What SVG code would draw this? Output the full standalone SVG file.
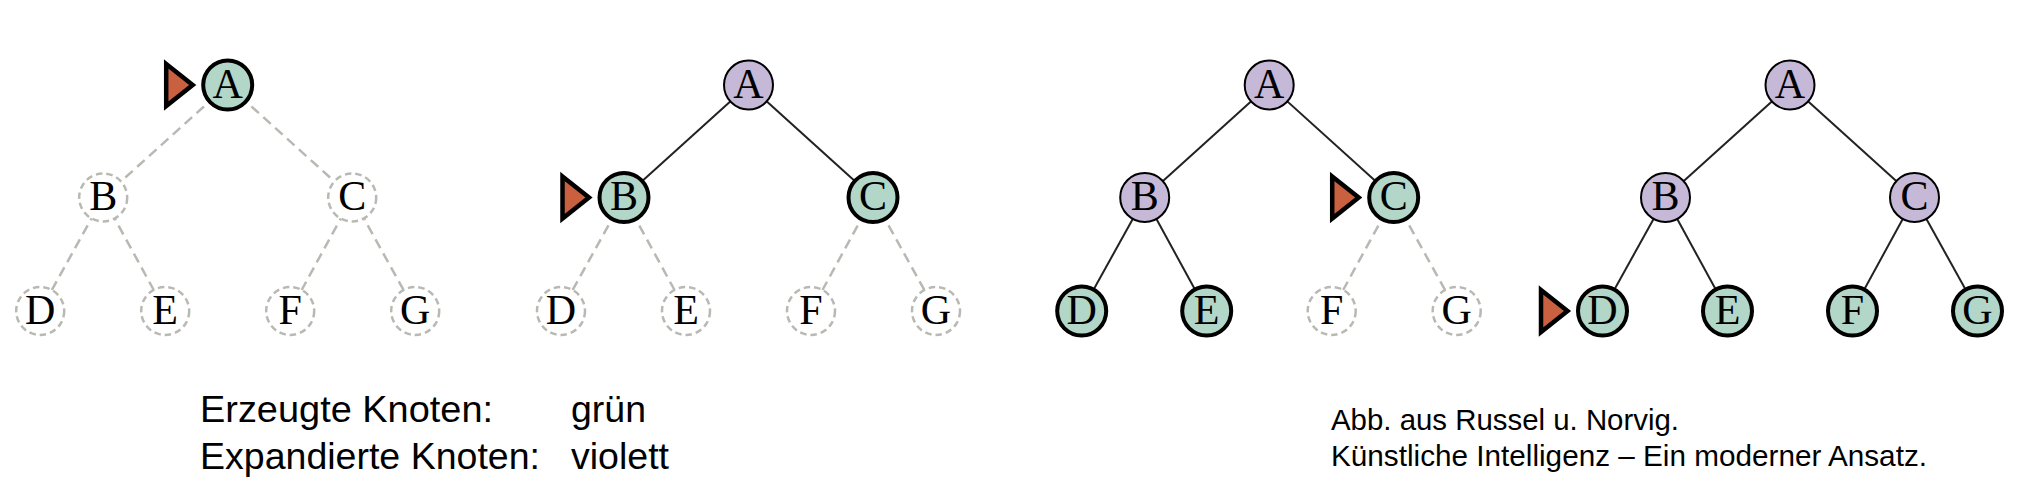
<svg xmlns="http://www.w3.org/2000/svg" xmlns:xlink="http://www.w3.org/1999/xlink" width="2022" height="483" viewBox="0 0 2022 483">
<style>
.gen{fill:#b2d6c8;stroke:#000;stroke-width:4}
.exp{fill:#c5b9d7;stroke:#000;stroke-width:2}
.unv{fill:#fff;stroke:#b9b9b3;stroke-width:2.5;stroke-dasharray:6.5 4}
.lbl{font-family:"Liberation Serif","Times New Roman",serif;font-size:42px;text-anchor:middle;fill:#000}
.solid{stroke:#222;stroke-width:2;fill:none}
.dash{stroke:#b9b9b3;stroke-width:2.5;stroke-dasharray:10 6;fill:none}
.ptr{fill:#c96141;stroke:#000;stroke-width:4.5;stroke-linejoin:miter}
.cap{font-family:"Liberation Sans",Arial,sans-serif;fill:#000}
</style>
<defs>
<path id="ptr" d="M-61.5,-21 L-35,0 L-61.5,21 Z"/>
</defs>
<rect width="2022" height="483" fill="#fff"/>

<g id="connectors">
<!-- tree 1 -->
<line class="dash" x1="227.7" y1="85" x2="103.2" y2="197.5"/>
<line class="dash" x1="227.7" y1="85" x2="352.2" y2="197.5"/>
<line class="dash" x1="103.2" y1="197.5" x2="40.2" y2="311"/>
<line class="dash" x1="103.2" y1="197.5" x2="165.2" y2="311"/>
<line class="dash" x1="352.2" y1="197.5" x2="290.2" y2="311"/>
<line class="dash" x1="352.2" y1="197.5" x2="415.2" y2="311"/>
<!-- tree 2 -->
<line class="solid" x1="748.5" y1="85" x2="624" y2="197.5"/>
<line class="solid" x1="748.5" y1="85" x2="873" y2="197.5"/>
<line class="dash" x1="624" y1="197.5" x2="561" y2="311"/>
<line class="dash" x1="624" y1="197.5" x2="686" y2="311"/>
<line class="dash" x1="873" y1="197.5" x2="811" y2="311"/>
<line class="dash" x1="873" y1="197.5" x2="936" y2="311"/>
<!-- tree 3 -->
<line class="solid" x1="1269.2" y1="85" x2="1144.7" y2="197.5"/>
<line class="solid" x1="1269.2" y1="85" x2="1393.7" y2="197.5"/>
<line class="solid" x1="1144.7" y1="197.5" x2="1081.7" y2="311"/>
<line class="solid" x1="1144.7" y1="197.5" x2="1206.7" y2="311"/>
<line class="dash" x1="1393.7" y1="197.5" x2="1331.7" y2="311"/>
<line class="dash" x1="1393.7" y1="197.5" x2="1456.7" y2="311"/>
<!-- tree 4 -->
<line class="solid" x1="1790" y1="85" x2="1665.5" y2="197.5"/>
<line class="solid" x1="1790" y1="85" x2="1914.5" y2="197.5"/>
<line class="solid" x1="1665.5" y1="197.5" x2="1602.5" y2="311"/>
<line class="solid" x1="1665.5" y1="197.5" x2="1727.5" y2="311"/>
<line class="solid" x1="1914.5" y1="197.5" x2="1852.5" y2="311"/>
<line class="solid" x1="1914.5" y1="197.5" x2="1977.5" y2="311"/>
</g>

<!-- tree 1 nodes -->
<g id="t1-A"><use xlink:href="#ptr" x="227.7" y="85" class="ptr"/><circle class="gen" cx="227.7" cy="85" r="24.5"/><text class="lbl" x="227.7" y="97.5">A</text></g>
<g id="t1-B"><circle class="unv" cx="103.2" cy="197.5" r="24"/><text class="lbl" x="103.2" y="210">B</text></g>
<g id="t1-C"><circle class="unv" cx="352.2" cy="197.5" r="24"/><text class="lbl" x="352.2" y="210">C</text></g>
<g id="t1-D"><circle class="unv" cx="40.2" cy="311" r="24"/><text class="lbl" x="40.2" y="323.5">D</text></g>
<g id="t1-E"><circle class="unv" cx="165.2" cy="311" r="24"/><text class="lbl" x="165.2" y="323.5">E</text></g>
<g id="t1-F"><circle class="unv" cx="290.2" cy="311" r="24"/><text class="lbl" x="290.2" y="323.5">F</text></g>
<g id="t1-G"><circle class="unv" cx="415.2" cy="311" r="24"/><text class="lbl" x="415.2" y="323.5">G</text></g>

<!-- tree 2 nodes -->
<g id="t2-A"><circle class="exp" cx="748.5" cy="85" r="24.5"/><text class="lbl" x="748.5" y="97.5">A</text></g>
<g id="t2-B"><use xlink:href="#ptr" x="624" y="197.5" class="ptr"/><circle class="gen" cx="624" cy="197.5" r="24.5"/><text class="lbl" x="624" y="210">B</text></g>
<g id="t2-C"><circle class="gen" cx="873" cy="197.5" r="24.5"/><text class="lbl" x="873" y="210">C</text></g>
<g id="t2-D"><circle class="unv" cx="561" cy="311" r="24"/><text class="lbl" x="561" y="323.5">D</text></g>
<g id="t2-E"><circle class="unv" cx="686" cy="311" r="24"/><text class="lbl" x="686" y="323.5">E</text></g>
<g id="t2-F"><circle class="unv" cx="811" cy="311" r="24"/><text class="lbl" x="811" y="323.5">F</text></g>
<g id="t2-G"><circle class="unv" cx="936" cy="311" r="24"/><text class="lbl" x="936" y="323.5">G</text></g>

<!-- tree 3 nodes -->
<g id="t3-A"><circle class="exp" cx="1269.2" cy="85" r="24.5"/><text class="lbl" x="1269.2" y="97.5">A</text></g>
<g id="t3-B"><circle class="exp" cx="1144.7" cy="197.5" r="24.5"/><text class="lbl" x="1144.7" y="210">B</text></g>
<g id="t3-C"><use xlink:href="#ptr" x="1393.7" y="197.5" class="ptr"/><circle class="gen" cx="1393.7" cy="197.5" r="24.5"/><text class="lbl" x="1393.7" y="210">C</text></g>
<g id="t3-D"><circle class="gen" cx="1081.7" cy="311" r="24.5"/><text class="lbl" x="1081.7" y="323.5">D</text></g>
<g id="t3-E"><circle class="gen" cx="1206.7" cy="311" r="24.5"/><text class="lbl" x="1206.7" y="323.5">E</text></g>
<g id="t3-F"><circle class="unv" cx="1331.7" cy="311" r="24"/><text class="lbl" x="1331.7" y="323.5">F</text></g>
<g id="t3-G"><circle class="unv" cx="1456.7" cy="311" r="24"/><text class="lbl" x="1456.7" y="323.5">G</text></g>

<!-- tree 4 nodes -->
<g id="t4-A"><circle class="exp" cx="1790" cy="85" r="24.5"/><text class="lbl" x="1790" y="97.5">A</text></g>
<g id="t4-B"><circle class="exp" cx="1665.5" cy="197.5" r="24.5"/><text class="lbl" x="1665.5" y="210">B</text></g>
<g id="t4-C"><circle class="exp" cx="1914.5" cy="197.5" r="24.5"/><text class="lbl" x="1914.5" y="210">C</text></g>
<g id="t4-D"><use xlink:href="#ptr" x="1602.5" y="311" class="ptr"/><circle class="gen" cx="1602.5" cy="311" r="24.5"/><text class="lbl" x="1602.5" y="323.5">D</text></g>
<g id="t4-E"><circle class="gen" cx="1727.5" cy="311" r="24.5"/><text class="lbl" x="1727.5" y="323.5">E</text></g>
<g id="t4-F"><circle class="gen" cx="1852.5" cy="311" r="24.5"/><text class="lbl" x="1852.5" y="323.5">F</text></g>
<g id="t4-G"><circle class="gen" cx="1977.5" cy="311" r="24.5"/><text class="lbl" x="1977.5" y="323.5">G</text></g>

<g id="legend">
<text class="cap" x="200" y="422" font-size="37" textLength="293" lengthAdjust="spacingAndGlyphs">Erzeugte Knoten:</text>
<text class="cap" x="571" y="422" font-size="37" textLength="75" lengthAdjust="spacingAndGlyphs">grün</text>
<text class="cap" x="200" y="468.5" font-size="37" textLength="340" lengthAdjust="spacingAndGlyphs">Expandierte Knoten:</text>
<text class="cap" x="571" y="468.5" font-size="37" textLength="98" lengthAdjust="spacingAndGlyphs">violett</text>
</g>
<g id="citation">
<text class="cap" x="1331" y="430" font-size="29.5" textLength="348" lengthAdjust="spacingAndGlyphs">Abb. aus Russel u. Norvig.</text>
<text class="cap" x="1331" y="466" font-size="29.5" textLength="596" lengthAdjust="spacingAndGlyphs">Künstliche Intelligenz – Ein moderner Ansatz.</text>
</g>
</svg>
